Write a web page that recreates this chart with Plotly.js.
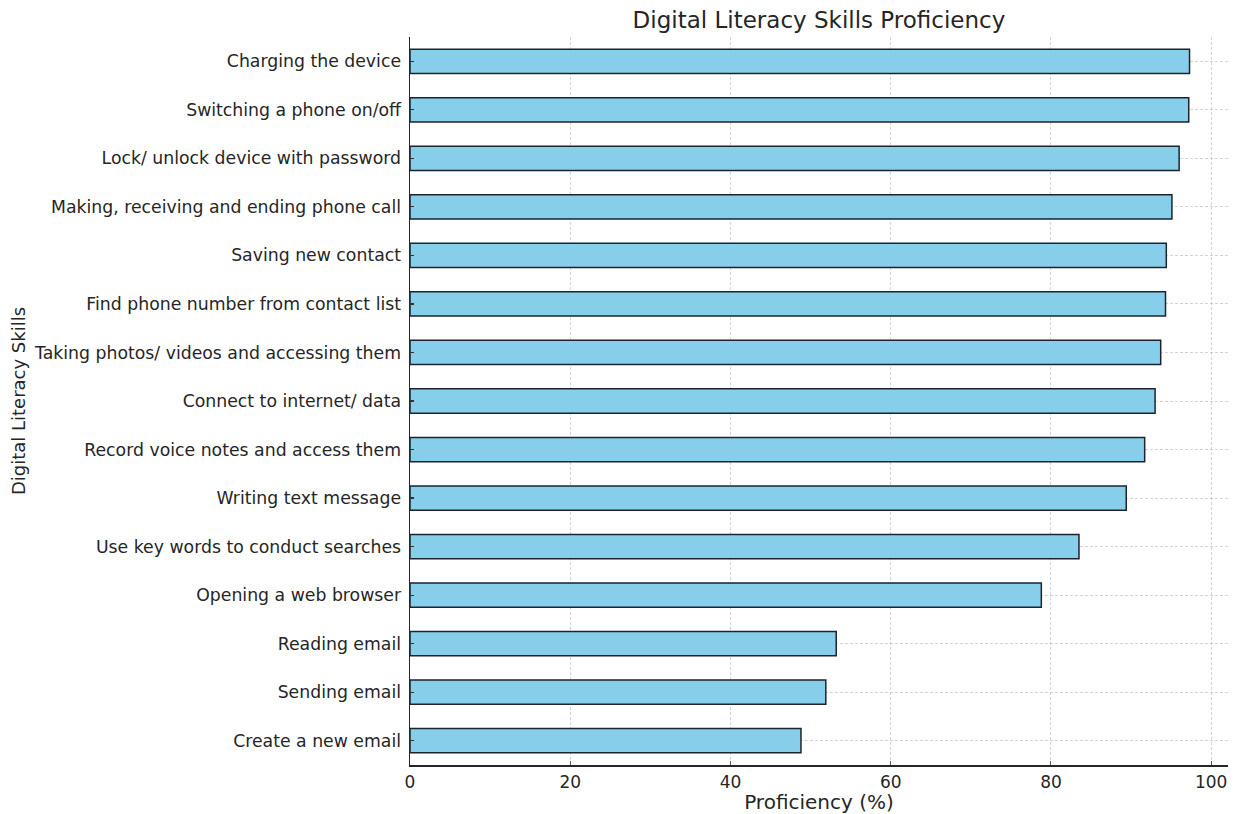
<!DOCTYPE html>
<html>
<head>
<meta charset="utf-8">
<script src="https://cdn.plot.ly/plotly-3.0.1.min.js"></script>
<style>html,body{margin:0;padding:0;background:#fff;}#chart{width:1236px;height:814px;}</style>
</head>
<body>
<div id="chart"></div>
<script>
const skills = [
  "Charging the device",
  "Switching a phone on/off",
  "Lock/ unlock device with password",
  "Making, receiving and ending phone call",
  "Saving new contact",
  "Find phone number from contact list",
  "Taking photos/ videos and accessing them",
  "Connect to internet/ data",
  "Record voice notes and access them",
  "Writing text message",
  "Use key words to conduct searches",
  "Opening a web browser",
  "Reading email",
  "Sending email",
  "Create a new email"
];
const proficiency = [97.3, 97.2, 96.0, 95.1, 94.4, 94.3, 93.7, 93.0, 91.7, 89.4, 83.5, 78.8, 53.2, 51.9, 48.8];
const xTicks = [0, 20, 40, 60, 80, 100];

const font = "DejaVu Sans, sans-serif";
const trace = {
  type: "bar",
  orientation: "h",
  x: proficiency,
  y: skills,
  width: 0.5,
  marker: {color: "#87CEEB", line: {color: "#1c252d", width: 1.5}},
  hoverinfo: "x+y"
};
const gridCol = "rgba(176,176,176,0.55)";
const layout = {
  width: 1236, height: 814,
  margin: {l: 410, r: 8, t: 37, b: 49},
  paper_bgcolor: "#fff", plot_bgcolor: "#fff",
  showlegend: false,
  font: {family: font, color: "#262626", size: 17},
  title: {text: "Digital Literacy Skills Proficiency", font: {size: 23, family: font, color: "#262626"}, x: 0.6626, xanchor: "center", y: 0.975, yanchor: "middle"},
  xaxis: {
    range: [0, 102.1], tickvals: xTicks, ticktext: xTicks.map(String),
    showline: true, linecolor: "#262626", linewidth: 1.5,
    ticks: "inside", ticklen: 4, tickcolor: "#555", tickwidth: 1,
    showgrid: true, gridcolor: gridCol, griddash: "3px,2px", gridwidth: 1,
    zeroline: false, layer: "above traces",
    tickfont: {size: 17}, ticklabelstandoff: 1,
    title: {text: "Proficiency (%)", font: {size: 20}, standoff: 6}
  },
  yaxis: {
    type: "category", categoryorder: "array", categoryarray: skills,
    range: [14.5, -0.5],
    showline: true, linecolor: "#262626", linewidth: 1.5,
    ticks: "inside", ticklen: 4, tickcolor: "#333", tickwidth: 1.2,
    showgrid: true, gridcolor: gridCol, griddash: "3px,2px", gridwidth: 1,
    zeroline: false, layer: "above traces",
    tickfont: {size: 17.3}, ticklabelstandoff: 4,
    title: {text: "Digital Literacy Skills", font: {size: 18}, standoff: 3}
  },
  bargap: 0.5
};
Plotly.newPlot("chart", [trace], layout, {displayModeBar: false, staticPlot: true});
</script>
</body>
</html>
